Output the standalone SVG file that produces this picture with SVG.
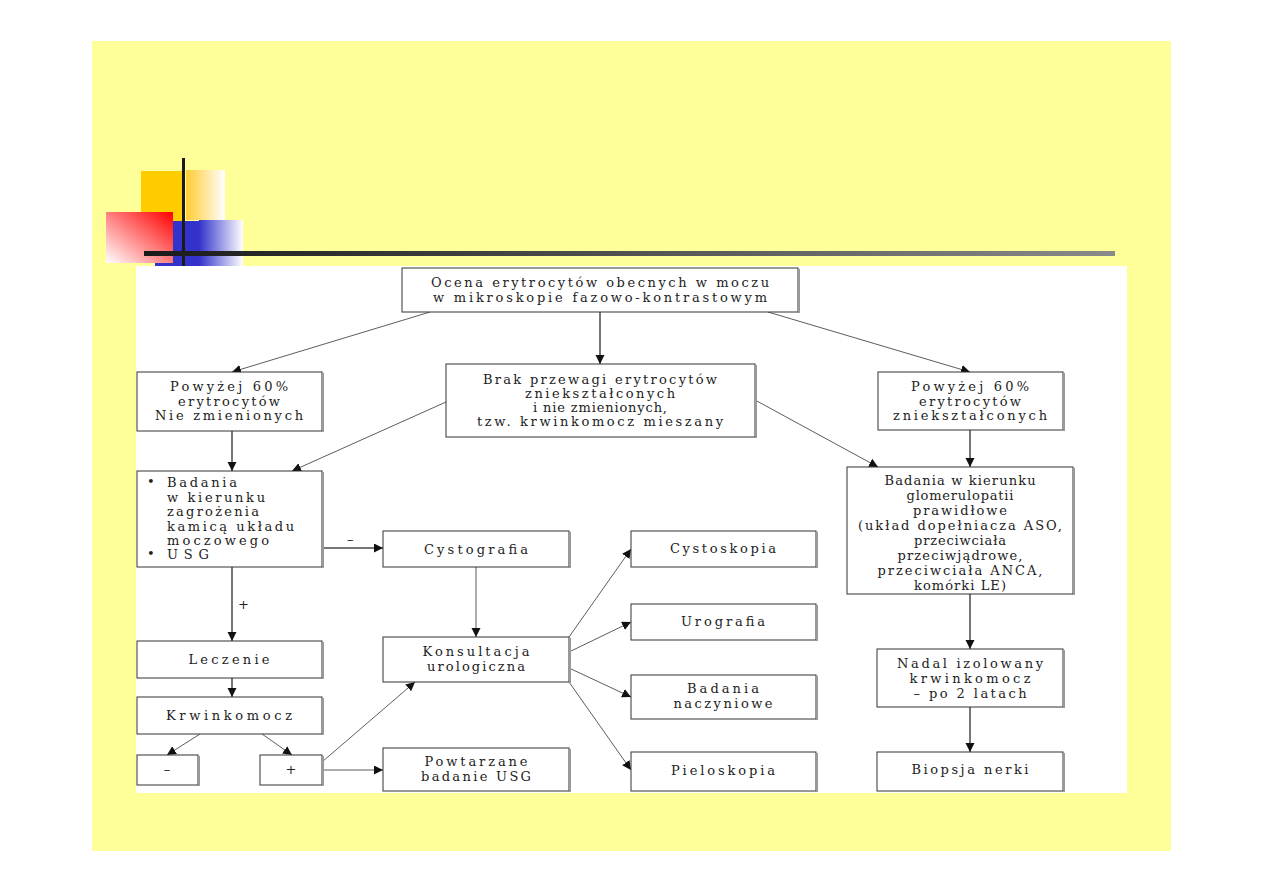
<svg xmlns="http://www.w3.org/2000/svg" width="1263" height="893" viewBox="0 0 1263 893">
<defs>
<style>
.bx{fill:#fff;stroke:#333;stroke-width:1}
.sh{fill:none;stroke:#999;stroke-width:2}
.t{font-family:"DejaVu Serif","Liberation Serif",serif;font-size:13px;fill:#222;text-anchor:middle}
.tl{font-family:"DejaVu Serif","Liberation Serif",serif;font-size:13px;fill:#222}
.ln{fill:none;stroke:#333;stroke-width:0.8;marker-end:url(#ah)}
.lg{fill:none;stroke:#777;stroke-width:2;marker-end:url(#ah)}
</style>
<marker id="ah" markerUnits="userSpaceOnUse" markerWidth="11" markerHeight="10" refX="9" refY="4.5" orient="auto">
<path d="M0,0 L9,4.5 L0,9 z" fill="#111"/>
</marker>
<linearGradient id="gOr" x1="0" y1="0" x2="1" y2="0"><stop offset="0" stop-color="#FFCC33"/><stop offset="1" stop-color="#fff"/></linearGradient>
<linearGradient id="gBl" x1="0" y1="0" x2="1" y2="0"><stop offset="0" stop-color="#3333CC"/><stop offset="1" stop-color="#fff"/></linearGradient>
<linearGradient id="gRd" x1="1" y1="0" x2="0" y2="1"><stop offset="0" stop-color="#FF0000"/><stop offset="1" stop-color="#fff"/></linearGradient>
<linearGradient id="gLn" x1="0" y1="0" x2="1" y2="0"><stop offset="0" stop-color="#1a1a1a"/><stop offset="1" stop-color="#8a8a8a"/></linearGradient>
</defs>
<rect x="0" y="0" width="1263" height="893" fill="#fff"/>
<rect x="92" y="41" width="1079" height="810" fill="#FFFF99"/>
<rect x="136" y="266" width="991" height="527" fill="#fff"/>
<g id="decoration">
<rect x="141" y="171" width="42" height="50" fill="#FFCC00"/>
<rect x="186" y="170" width="39" height="50" fill="url(#gOr)"/>
<rect x="155" y="221" width="44" height="45" fill="#3333CC"/>
<rect x="199" y="220" width="44" height="46" fill="url(#gBl)"/>
<rect x="106" y="212" width="67" height="51" fill="url(#gRd)"/>
<rect x="182" y="158" width="3" height="108" fill="#1a1a1a"/>
<rect x="144" y="251" width="971" height="5" fill="url(#gLn)"/>
</g>
<g id="connectors">
<path class="ln" d="M430,312 L232,372"/>
<path class="lg" d="M600,312 V364"/>
<path class="ln" d="M768,312 L970,372"/>
<path class="lg" d="M232,431 V471"/>
<path class="ln" d="M446,402 L292,471"/>
<path class="ln" d="M755,400 L878,467"/>
<path class="lg" d="M970,430 V467"/>
<path class="lg" d="M322,548 H383"/>
<path class="lg" d="M232,567 V641"/>
<path class="ln" d="M476,567 V637"/>
<path class="lg" d="M232,678 V697"/>
<path class="ln" d="M200,734 L167,755"/>
<path class="ln" d="M262,734 L292,755"/>
<path class="ln" d="M322,762 L415,682"/>
<path class="ln" d="M322,770 H383"/>
<path class="ln" d="M569,637 L631,549"/>
<path class="ln" d="M569,652 L631,622"/>
<path class="ln" d="M569,668 L631,697"/>
<path class="ln" d="M569,682 L631,770"/>
<path class="lg" d="M970,594 V649"/>
<path class="lg" d="M970,707 V752"/>
<text class="tl" x="347" y="544">–</text>
<text class="tl" x="238" y="609">+</text>
</g>
<g id="n-top"><rect class="bx" x="402" y="268" width="396" height="44"/><path class="sh" d="M799,269 V313"/>
<text class="t" x="600" y="287" textLength="338" lengthAdjust="spacing">Ocena erytrocytów obecnych w moczu</text>
<text class="t" x="600" y="302" textLength="334" lengthAdjust="spacing">w mikroskopie fazowo-kontrastowym</text></g>
<g id="n-niezm"><rect class="bx" x="137" y="372" width="185" height="59"/><path class="sh" d="M323,373 V432"/>
<text class="t" x="229" y="391" textLength="118" lengthAdjust="spacing">Powyżej 60%</text>
<text class="t" x="229" y="406" textLength="102" lengthAdjust="spacing">erytrocytów</text>
<text class="t" x="229" y="420" textLength="148" lengthAdjust="spacing">Nie zmienionych</text></g>
<g id="n-brak"><rect class="bx" x="446" y="364" width="309" height="73"/><path class="sh" d="M756,365 V438"/>
<text class="t" x="600" y="384" textLength="234" lengthAdjust="spacing">Brak przewagi erytrocytów</text>
<text class="t" x="600" y="398" textLength="150" lengthAdjust="spacing">zniekształconych</text>
<text class="t" x="600" y="412" textLength="134" lengthAdjust="spacing">i nie zmienionych,</text>
<text class="t" x="600" y="426" textLength="246" lengthAdjust="spacing">tzw. krwinkomocz mieszany</text></g>
<g id="n-znieksz"><rect class="bx" x="878" y="372" width="185" height="58"/><path class="sh" d="M1064,373 V431"/>
<text class="t" x="970" y="391" textLength="118" lengthAdjust="spacing">Powyżej 60%</text>
<text class="t" x="970" y="406" textLength="102" lengthAdjust="spacing">erytrocytów</text>
<text class="t" x="970" y="420" textLength="154" lengthAdjust="spacing">zniekształconych</text></g>
<g id="n-badania"><rect class="bx" x="137" y="471" width="185" height="96"/><path class="sh" d="M323,472 V568"/>
<text class="tl" x="147" y="486" font-size="10">•</text>
<text class="tl" x="167" y="487" textLength="70" lengthAdjust="spacing">Badania</text>
<text class="tl" x="167" y="502" textLength="98" lengthAdjust="spacing">w kierunku</text>
<text class="tl" x="167" y="516" textLength="92" lengthAdjust="spacing">zagrożenia</text>
<text class="tl" x="167" y="531" textLength="127" lengthAdjust="spacing">kamicą układu</text>
<text class="tl" x="167" y="545" textLength="102" lengthAdjust="spacing">moczowego</text>
<text class="tl" x="147" y="558" font-size="10">•</text>
<text class="tl" x="167" y="559" textLength="42" lengthAdjust="spacing">USG</text></g>
<g id="n-cystografia"><rect class="bx" x="383" y="531" width="186" height="36"/><path class="sh" d="M570,532 V568"/>
<text class="t" x="476" y="554" textLength="104" lengthAdjust="spacing">Cystografia</text></g>
<g id="n-glom"><rect class="bx" x="847" y="467" width="226" height="127"/><path class="sh" d="M1074,468 V595"/>
<text class="t" x="960" y="485" textLength="151" lengthAdjust="spacing">Badania w kierunku</text>
<text class="t" x="960" y="500" textLength="107" lengthAdjust="spacing">glomerulopatii</text>
<text class="t" x="960" y="515" textLength="94" lengthAdjust="spacing">prawidłowe</text>
<text class="t" x="960" y="530" textLength="204" lengthAdjust="spacing">(układ dopełniacza ASO,</text>
<text class="t" x="960" y="545" textLength="92" lengthAdjust="spacing">przeciwciała</text>
<text class="t" x="960" y="560" textLength="125" lengthAdjust="spacing">przeciwjądrowe,</text>
<text class="t" x="960" y="575" textLength="165" lengthAdjust="spacing">przeciwciała ANCA,</text>
<text class="t" x="960" y="590" textLength="92" lengthAdjust="spacing">komórki LE)</text></g>
<g id="n-cystoskopia"><rect class="bx" x="631" y="531" width="185" height="36"/><path class="sh" d="M817,532 V568"/>
<text class="t" x="723" y="553" textLength="106" lengthAdjust="spacing">Cystoskopia</text></g>
<g id="n-urografia"><rect class="bx" x="631" y="604" width="185" height="36"/><path class="sh" d="M817,605 V641"/>
<text class="t" x="723" y="626" textLength="84" lengthAdjust="spacing">Urografia</text></g>
<g id="n-naczyniowe"><rect class="bx" x="631" y="675" width="185" height="44"/><path class="sh" d="M817,676 V720"/>
<text class="t" x="723" y="693" textLength="72" lengthAdjust="spacing">Badania</text>
<text class="t" x="723" y="708" textLength="99" lengthAdjust="spacing">naczyniowe</text></g>
<g id="n-pieloskopia"><rect class="bx" x="631" y="752" width="185" height="39"/><path class="sh" d="M817,753 V792"/>
<text class="t" x="723" y="775" textLength="104" lengthAdjust="spacing">Pieloskopia</text></g>
<g id="n-leczenie"><rect class="bx" x="137" y="641" width="185" height="37"/><path class="sh" d="M323,642 V679"/>
<text class="t" x="229" y="664" textLength="81" lengthAdjust="spacing">Leczenie</text></g>
<g id="n-konsultacja"><rect class="bx" x="383" y="637" width="186" height="45"/><path class="sh" d="M570,638 V683"/>
<text class="t" x="476" y="656" textLength="107" lengthAdjust="spacing">Konsultacja</text>
<text class="t" x="476" y="671" textLength="98" lengthAdjust="spacing">urologiczna</text></g>
<g id="n-nadal"><rect class="bx" x="877" y="649" width="186" height="58"/><path class="sh" d="M1064,650 V708"/>
<text class="t" x="970" y="668" textLength="146" lengthAdjust="spacing">Nadal izolowany</text>
<text class="t" x="970" y="683" textLength="121" lengthAdjust="spacing">krwinkomocz</text>
<text class="t" x="970" y="698" textLength="113" lengthAdjust="spacing">– po 2 latach</text></g>
<g id="n-krwinkomocz"><rect class="bx" x="137" y="697" width="185" height="37"/><path class="sh" d="M323,698 V735"/>
<text class="t" x="229" y="720" textLength="126" lengthAdjust="spacing">Krwinkomocz</text></g>
<g id="n-minus"><rect class="bx" x="137" y="755" width="61" height="30"/><path class="sh" d="M199,756 V786"/>
<text class="t" x="167" y="774">–</text></g>
<g id="n-plus"><rect class="bx" x="260" y="755" width="62" height="30"/><path class="sh" d="M323,756 V786"/>
<text class="t" x="291" y="774">+</text></g>
<g id="n-powtarzane"><rect class="bx" x="383" y="748" width="186" height="43"/><path class="sh" d="M570,749 V792"/>
<text class="t" x="476" y="766" textLength="103" lengthAdjust="spacing">Powtarzane</text>
<text class="t" x="476" y="781" textLength="110" lengthAdjust="spacing">badanie USG</text></g>
<g id="n-biopsja"><rect class="bx" x="877" y="752" width="186" height="39"/><path class="sh" d="M1064,753 V792"/>
<text class="t" x="970" y="774" textLength="117" lengthAdjust="spacing">Biopsja nerki</text></g>
</svg>
